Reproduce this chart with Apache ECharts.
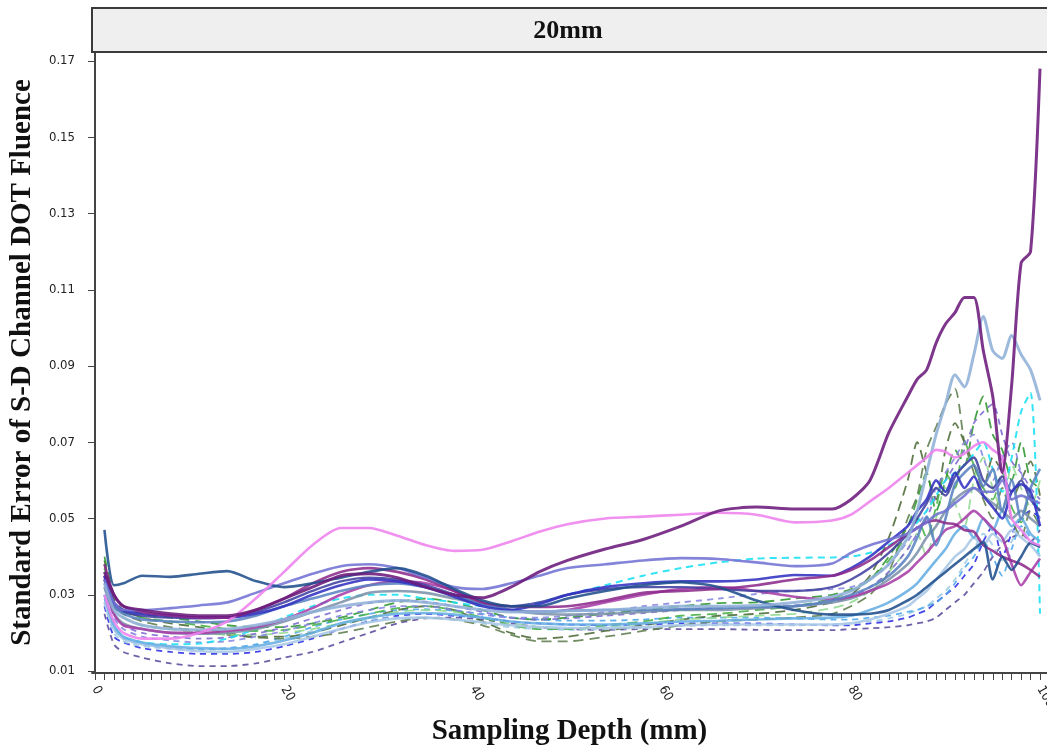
<!DOCTYPE html>
<html>
<head>
<meta charset="utf-8">
<title>20mm</title>
<script src="https://cdn.jsdelivr.net/npm/echarts@6/dist/echarts.min.js"></script>
<style>
  html, body { margin: 0; padding: 0; background: #fff; }
  #chart { width: 1047px; height: 750px; }
</style>
</head>
<body>
<div id="chart"></div>
<script>
// sampling depth (mm)
var depths = [1, 2, 3, 5, 8, 11, 14, 17, 20, 23, 26, 29, 32, 35, 38, 41, 44, 47, 50, 54, 58, 62, 66, 70, 74, 78,
  80, 82, 84, 86, 87, 88, 89, 90, 91, 92, 93, 94, 95, 96, 97, 98, 99, 100];

var yTicks = [0.01, 0.03, 0.05, 0.07, 0.09, 0.11, 0.13, 0.15, 0.17];
var xLabels = [0, 20, 40, 60, 80, 100];

// solid lines
var darkPurple = [0.036, 0.030, 0.027, 0.026, 0.025, 0.0245, 0.0245, 0.026, 0.029, 0.032, 0.035, 0.0355, 0.0345, 0.032, 0.030, 0.0292, 0.032, 0.036, 0.039, 0.042, 0.0445, 0.048, 0.052, 0.053, 0.0525, 0.0525,
  0.055, 0.060, 0.0725, 0.082, 0.0865, 0.089, 0.096, 0.101, 0.104, 0.108, 0.108, 0.094, 0.082, 0.062, 0.085, 0.117, 0.120, 0.168];
var violet = [0.030, 0.023, 0.020, 0.0185, 0.0185, 0.020, 0.023, 0.029, 0.036, 0.043, 0.0475, 0.0475, 0.0455, 0.043, 0.0415, 0.0418, 0.044, 0.0465, 0.0485, 0.050, 0.0505, 0.051, 0.0515, 0.051, 0.049, 0.0495,
  0.051, 0.0545, 0.058, 0.062, 0.064, 0.066, 0.068, 0.0675, 0.066, 0.067, 0.069, 0.070, 0.068, 0.066, 0.050, 0.047, 0.044, 0.043];
var navy = [0.047, 0.0325, 0.033, 0.035, 0.0347, 0.0355, 0.0362, 0.0336, 0.032, 0.033, 0.0345, 0.036, 0.037, 0.035, 0.0315, 0.0285, 0.027, 0.027, 0.029, 0.031, 0.0325, 0.0333, 0.032, 0.0285, 0.026, 0.0248,
  0.0248, 0.025, 0.026, 0.0285, 0.030, 0.032, 0.034, 0.036, 0.038, 0.040, 0.042, 0.0438, 0.034, 0.040, 0.0365, 0.040, 0.0436, 0.0425];
var lightSteel = [0.033, 0.026, 0.024, 0.022, 0.021, 0.0208, 0.021, 0.022, 0.0235, 0.0255, 0.027, 0.028, 0.0285, 0.028, 0.027, 0.026, 0.0255, 0.0255, 0.0258, 0.026, 0.0265, 0.027, 0.027, 0.0272, 0.028, 0.0295,
  0.031, 0.034, 0.038, 0.045, 0.052, 0.062, 0.072, 0.080, 0.0877, 0.0845, 0.093, 0.103, 0.094, 0.092, 0.098, 0.093, 0.089, 0.081];
var steelBlue = [0.034, 0.027, 0.025, 0.0235, 0.023, 0.0228, 0.023, 0.0245, 0.027, 0.029, 0.031, 0.0325, 0.033, 0.032, 0.030, 0.0275, 0.026, 0.0255, 0.0258, 0.026, 0.026, 0.0262, 0.0265, 0.0268, 0.027, 0.0285,
  0.030, 0.032, 0.035, 0.040, 0.045, 0.0505, 0.043, 0.050, 0.059, 0.062, 0.064, 0.0585, 0.063, 0.052, 0.060, 0.050, 0.058, 0.063];
var royalBlue = [0.035, 0.028, 0.026, 0.025, 0.0245, 0.024, 0.024, 0.025, 0.027, 0.030, 0.0325, 0.034, 0.0335, 0.032, 0.0295, 0.027, 0.026, 0.0275, 0.030, 0.032, 0.033, 0.0335, 0.0335, 0.034, 0.0352, 0.035,
  0.037, 0.040, 0.044, 0.048, 0.052, 0.055, 0.060, 0.057, 0.062, 0.058, 0.061, 0.056, 0.053, 0.050, 0.057, 0.059, 0.057, 0.048];
var slateBlue = [0.034, 0.028, 0.026, 0.026, 0.0265, 0.0272, 0.028, 0.0305, 0.033, 0.0355, 0.0375, 0.038, 0.037, 0.0345, 0.032, 0.0315, 0.033, 0.035, 0.037, 0.038, 0.039, 0.0396, 0.0394, 0.0385, 0.0375, 0.0382,
  0.041, 0.043, 0.0445, 0.046, 0.0475, 0.049, 0.051, 0.052, 0.054, 0.056, 0.058, 0.057, 0.057, 0.060, 0.055, 0.056, 0.055, 0.054];
var purple = [0.038, 0.030, 0.027, 0.0255, 0.0245, 0.024, 0.024, 0.026, 0.029, 0.033, 0.036, 0.037, 0.036, 0.034, 0.031, 0.028, 0.027, 0.0268, 0.027, 0.0285, 0.0305, 0.031, 0.0315, 0.0325, 0.034, 0.035,
  0.0365, 0.039, 0.0425, 0.046, 0.0475, 0.049, 0.0495, 0.0488, 0.0485, 0.047, 0.0465, 0.043, 0.0415, 0.040, 0.039, 0.038, 0.0365, 0.0347];
var magenta = [0.035, 0.025, 0.022, 0.021, 0.020, 0.020, 0.0205, 0.0215, 0.0235, 0.0265, 0.030, 0.0325, 0.0335, 0.033, 0.031, 0.028, 0.026, 0.0255, 0.026, 0.028, 0.030, 0.0315, 0.032, 0.031, 0.0295, 0.0288,
  0.0295, 0.031, 0.033, 0.036, 0.0385, 0.041, 0.044, 0.047, 0.048, 0.050, 0.052, 0.050, 0.0475, 0.045, 0.038, 0.0325, 0.036, 0.0395];
var indigo = [0.034, 0.027, 0.0255, 0.0245, 0.024, 0.0238, 0.024, 0.0255, 0.028, 0.031, 0.0335, 0.0345, 0.034, 0.0325, 0.030, 0.0275, 0.027, 0.028, 0.030, 0.0315, 0.032, 0.032, 0.0315, 0.031, 0.031, 0.032,
  0.034, 0.037, 0.041, 0.046, 0.050, 0.054, 0.058, 0.056, 0.061, 0.064, 0.066, 0.060, 0.058, 0.061, 0.057, 0.060, 0.055, 0.052];
var grayBlue = [0.032, 0.025, 0.0225, 0.021, 0.020, 0.0198, 0.020, 0.021, 0.023, 0.0255, 0.028, 0.0305, 0.031, 0.0305, 0.029, 0.0275, 0.026, 0.025, 0.0248, 0.025, 0.0255, 0.026, 0.026, 0.0265, 0.027, 0.028,
  0.029, 0.031, 0.034, 0.038, 0.041, 0.045, 0.048, 0.052, 0.055, 0.057, 0.058, 0.056, 0.054, 0.052, 0.050, 0.052, 0.050, 0.048];
var skyBlue = [0.030, 0.022, 0.019, 0.0175, 0.0165, 0.016, 0.0158, 0.0165, 0.018, 0.020, 0.0225, 0.024, 0.025, 0.0252, 0.0248, 0.024, 0.023, 0.0225, 0.0222, 0.0222, 0.0225, 0.023, 0.0232, 0.0235, 0.0238, 0.024,
  0.0245, 0.026, 0.028, 0.031, 0.033, 0.036, 0.039, 0.042, 0.046, 0.048, 0.045, 0.050, 0.047, 0.052, 0.048, 0.050, 0.046, 0.044];
var paleBlue = [0.028, 0.021, 0.0185, 0.017, 0.016, 0.0152, 0.015, 0.0158, 0.017, 0.019, 0.021, 0.0228, 0.0238, 0.024, 0.0235, 0.0228, 0.022, 0.0215, 0.0213, 0.0213, 0.0215, 0.022, 0.0222, 0.0222, 0.0222, 0.0222,
  0.0225, 0.0235, 0.025, 0.027, 0.029, 0.031, 0.034, 0.037, 0.040, 0.042, 0.045, 0.043, 0.046, 0.044, 0.047, 0.045, 0.043, 0.040];

// dashed lines
var slateDash = [0.025, 0.017, 0.015, 0.0135, 0.012, 0.0113, 0.0113, 0.012, 0.0135, 0.015, 0.0175, 0.020, 0.0225, 0.0238, 0.024, 0.0235, 0.0225, 0.0215, 0.021, 0.0208, 0.021, 0.021, 0.021, 0.0208, 0.0207, 0.0207,
  0.021, 0.0212, 0.0215, 0.022, 0.0225, 0.023, 0.024, 0.026, 0.028, 0.030, 0.033, 0.036, 0.040, 0.043, 0.045, 0.046, 0.044, 0.047];
var blueDash = [0.027, 0.019, 0.0175, 0.016, 0.015, 0.0145, 0.0145, 0.015, 0.0165, 0.0185, 0.021, 0.023, 0.0245, 0.025, 0.0245, 0.024, 0.023, 0.0225, 0.0222, 0.022, 0.0222, 0.0225, 0.0225, 0.0225, 0.0222, 0.022,
  0.022, 0.0225, 0.023, 0.024, 0.025, 0.026, 0.028, 0.030, 0.032, 0.035, 0.038, 0.044, 0.048, 0.040, 0.046, 0.050, 0.052, 0.050];
var cyanDash = [0.030, 0.022, 0.019, 0.0175, 0.017, 0.0172, 0.0185, 0.021, 0.024, 0.027, 0.029, 0.030, 0.030, 0.029, 0.028, 0.027, 0.0268, 0.028, 0.030, 0.0325, 0.035, 0.037, 0.0385, 0.0395, 0.0397, 0.0398,
  0.040, 0.041, 0.043, 0.046, 0.049, 0.052, 0.056, 0.060, 0.062, 0.064, 0.067, 0.070, 0.063, 0.057, 0.066, 0.078, 0.083, 0.025];
var dodgerDash = [0.029, 0.021, 0.0185, 0.017, 0.016, 0.0158, 0.016, 0.017, 0.019, 0.0215, 0.0235, 0.025, 0.026, 0.0262, 0.0258, 0.025, 0.024, 0.0235, 0.0232, 0.0232, 0.0235, 0.024, 0.024, 0.024, 0.0238, 0.0235,
  0.0235, 0.024, 0.0245, 0.0255, 0.026, 0.027, 0.028, 0.030, 0.033, 0.037, 0.040, 0.044, 0.040, 0.035, 0.042, 0.048, 0.045, 0.040];
var paleBlueDash = [0.028, 0.020, 0.0178, 0.0165, 0.0158, 0.0155, 0.0158, 0.0168, 0.0185, 0.0205, 0.0222, 0.0235, 0.024, 0.024, 0.0235, 0.0225, 0.0215, 0.021, 0.0208, 0.021, 0.0213, 0.0218, 0.022, 0.022, 0.022, 0.0222,
  0.0225, 0.023, 0.0238, 0.025, 0.026, 0.027, 0.029, 0.031, 0.034, 0.038, 0.042, 0.046, 0.043, 0.039, 0.044, 0.047, 0.044, 0.042];
var greenDash = [0.040, 0.030, 0.027, 0.025, 0.024, 0.023, 0.022, 0.0215, 0.0215, 0.0225, 0.024, 0.026, 0.028, 0.029, 0.028, 0.026, 0.024, 0.0235, 0.024, 0.025, 0.026, 0.027, 0.0278, 0.028, 0.029, 0.030,
  0.0315, 0.034, 0.040, 0.048, 0.055, 0.062, 0.052, 0.060, 0.068, 0.064, 0.075, 0.082, 0.072, 0.068, 0.060, 0.070, 0.060, 0.058];
var oliveDash = [0.039, 0.029, 0.026, 0.024, 0.0225, 0.0215, 0.020, 0.019, 0.019, 0.020, 0.022, 0.024, 0.026, 0.027, 0.026, 0.023, 0.020, 0.0185, 0.019, 0.0205, 0.022, 0.0235, 0.0245, 0.025, 0.026, 0.028,
  0.030, 0.035, 0.045, 0.060, 0.070, 0.062, 0.055, 0.068, 0.075, 0.070, 0.064, 0.058, 0.066, 0.062, 0.055, 0.060, 0.065, 0.056];
var lightGreenDash = [0.036, 0.027, 0.024, 0.022, 0.021, 0.020, 0.0195, 0.0195, 0.020, 0.021, 0.0225, 0.024, 0.0255, 0.026, 0.0255, 0.024, 0.0225, 0.0215, 0.021, 0.0215, 0.0225, 0.0235, 0.024, 0.0245, 0.025, 0.0265,
  0.028, 0.031, 0.036, 0.042, 0.046, 0.040, 0.050, 0.058, 0.054, 0.048, 0.060, 0.066, 0.058, 0.052, 0.064, 0.058, 0.053, 0.060];
var mossDash = [0.038, 0.028, 0.025, 0.023, 0.0215, 0.0205, 0.0195, 0.0188, 0.0185, 0.019, 0.020, 0.0215, 0.023, 0.024, 0.0235, 0.022, 0.0195, 0.0178, 0.0178, 0.019, 0.0205, 0.022, 0.023, 0.0235, 0.024, 0.025,
  0.027, 0.030, 0.036, 0.050, 0.056, 0.068, 0.074, 0.080, 0.084, 0.070, 0.062, 0.055, 0.050, 0.058, 0.050, 0.045, 0.052, 0.048];
var lavenderDash = [0.033, 0.025, 0.022, 0.020, 0.019, 0.0185, 0.0188, 0.0198, 0.0215, 0.0238, 0.026, 0.0278, 0.0285, 0.0282, 0.027, 0.0255, 0.024, 0.0235, 0.0238, 0.0245, 0.0252, 0.026, 0.0265, 0.0268, 0.0272, 0.028,
  0.0295, 0.032, 0.036, 0.042, 0.046, 0.050, 0.056, 0.060, 0.064, 0.068, 0.075, 0.078, 0.080, 0.072, 0.065, 0.062, 0.058, 0.055];
var leafDash = [0.037, 0.028, 0.0255, 0.024, 0.023, 0.022, 0.021, 0.0205, 0.0208, 0.022, 0.0235, 0.025, 0.0265, 0.027, 0.026, 0.024, 0.022, 0.021, 0.021, 0.022, 0.023, 0.0245, 0.025, 0.026, 0.027, 0.029,
  0.031, 0.034, 0.039, 0.046, 0.050, 0.045, 0.053, 0.062, 0.058, 0.070, 0.064, 0.058, 0.055, 0.062, 0.053, 0.049, 0.056, 0.052];
var periwinkleDash = [0.032, 0.024, 0.021, 0.019, 0.018, 0.0175, 0.0178, 0.019, 0.0205, 0.0225, 0.0245, 0.026, 0.027, 0.027, 0.026, 0.0248, 0.024, 0.024, 0.0245, 0.0255, 0.027, 0.028, 0.029, 0.0302, 0.031, 0.0315,
  0.032, 0.034, 0.038, 0.044, 0.048, 0.052, 0.058, 0.062, 0.066, 0.070, 0.072, 0.066, 0.060, 0.066, 0.070, 0.062, 0.056, 0.050];

var lines = [
  // [data, colour, dash, width]
  [slateDash, '#5b4a9c', [6, 5], 1.8],
  [blueDash, '#2a2ae6', [6, 5], 1.8],
  [paleBlueDash, '#9ccbe3', [6, 5], 1.8],
  [dodgerDash, '#4aa6ea', [6, 5], 1.8],
  [mossDash, '#5f7d4d', [10, 6], 1.8],
  [oliveDash, '#4b6a36', [10, 6], 1.8],
  [lightGreenDash, '#8fd88f', [10, 6], 1.8],
  [leafDash, '#45b045', [10, 6], 1.8],
  [greenDash, '#2f962f', [10, 6], 1.8],
  [lavenderDash, '#7d6bd2', [6, 5], 1.8],
  [periwinkleDash, '#8585e0', [6, 5], 1.8],
  [cyanDash, '#19e0f2', [7, 5], 2],
  [paleBlue, '#a9c7e6', 'solid', 2.6],
  [skyBlue, '#66aee2', 'solid', 2.6],
  [grayBlue, '#7c92aa', 'solid', 2.6],
  [magenta, '#a83da8', 'solid', 2.6],
  [indigo, '#4040a0', 'solid', 2.4],
  [steelBlue, '#5a83c2', 'solid', 2.6],
  [royalBlue, '#3232c2', 'solid', 2.6],
  [purple, '#8c2a8c', 'solid', 2.6],
  [slateBlue, '#7272d4', 'solid', 2.6],
  [navy, '#1f4e8c', 'solid', 2.6],
  [lightSteel, '#8fb0d8', 'solid', 3],
  [violet, '#ee82ee', 'solid', 2.6],
  [darkPurple, '#6b1a7b', 'solid', 3]
];

var minorTicks = [];
for (var t = 0; t <= 100; t++) minorTicks.push(t);

var chart = echarts.init(document.getElementById('chart'), null, { renderer: 'canvas' });

var series = lines.map(function (l, i) {
  return {
    type: 'line',
    name: 's' + i,
    data: depths.map(function (d, k) { return [d, l[0][k]]; }),
    showSymbol: false,
    smooth: 0.25,
    animation: false,
    lineStyle: { color: l[1], width: l[3], type: l[2], opacity: 0.88 },
    itemStyle: { color: l[1] },
    z: 2
  };
});

var serif = "'Liberation Serif', 'DejaVu Serif', serif";
var tickFont = "'Liberation Sans Narrow', 'DejaVu Sans Condensed', 'Liberation Sans', sans-serif";

chart.setOption({
  backgroundColor: '#fff',
  animation: false,
  grid: { left: 92, right: 0, top: 52, bottom: 77, containLabel: false, outerBoundsMode: 'none' },
  graphic: [
    {
      type: 'rect',
      shape: { x: 92, y: 8, width: 960, height: 44 },
      style: { fill: '#efefef', stroke: '#3a3a3a', lineWidth: 2 },
      z: 10
    },
    {
      type: 'text',
      x: 568, y: 31,
      style: { text: '20mm', font: "bold 26px 'Liberation Serif', serif", fill: '#111', align: 'center', verticalAlign: 'middle' },
      z: 11
    }
  ],
  xAxis: {
    type: 'value',
    min: -0.32,
    max: 100.74,
    name: 'Sampling Depth (mm)',
    nameLocation: 'middle',
    nameGap: 44,
    nameTextStyle: { fontFamily: serif, fontWeight: 'bold', fontSize: 29, color: '#111' },
    axisLine: { show: true, onZero: false, lineStyle: { color: '#444', width: 2 } },
    axisTick: { show: true, customValues: minorTicks, length: 7, lineStyle: { color: '#444', width: 1 } },
    axisLabel: {
      customValues: xLabels, rotate: -60, margin: 14, fontFamily: tickFont, fontSize: 13, color: '#222'
    },
    splitLine: { show: false }
  },
  yAxis: {
    type: 'value',
    min: 0.00948,
    max: 0.17236,
    name: 'Standard Error of S-D Channel DOT Fluence',
    nameLocation: 'middle',
    nameGap: 55,
    nameTextStyle: { fontFamily: serif, fontWeight: 'bold', fontSize: 29, color: '#111' },
    axisLine: { show: true, lineStyle: { color: '#444', width: 2 } },
    axisTick: { show: true, customValues: yTicks, length: 7, lineStyle: { color: '#444', width: 1 } },
    axisLabel: {
      customValues: yTicks, margin: 17, fontFamily: tickFont, fontSize: 13, color: '#222',
      formatter: function (v) { return v.toFixed(2); }
    },
    splitLine: { show: false }
  },
  series: series
});
</script>
</body>
</html>
